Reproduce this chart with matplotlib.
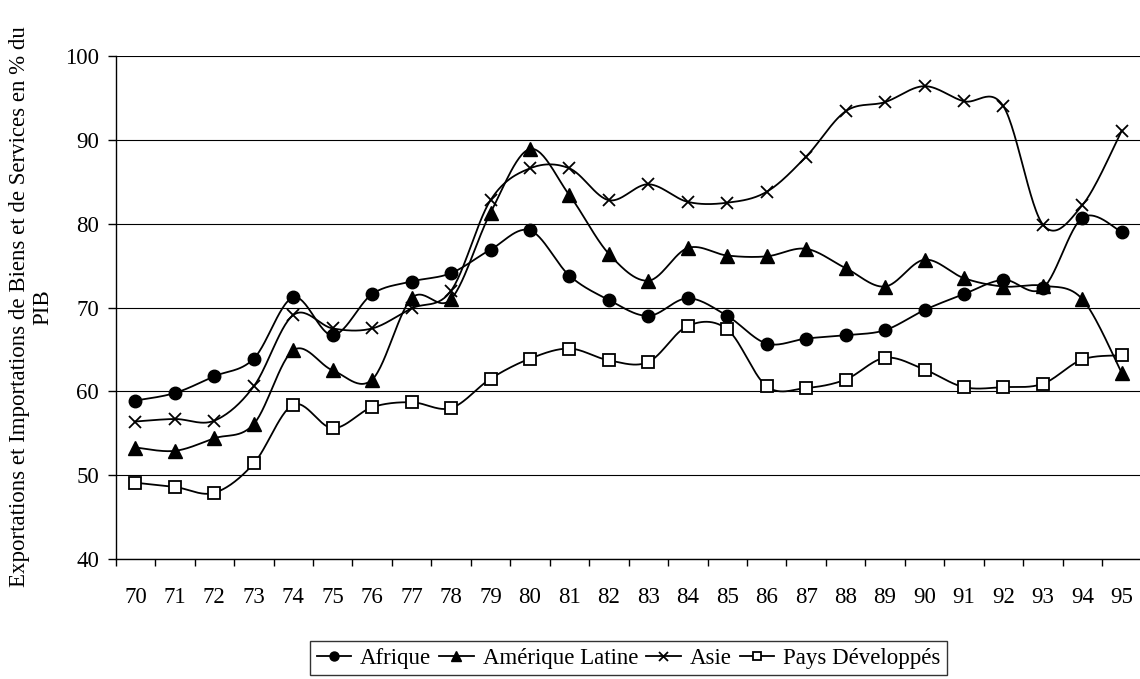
import numpy as np
import matplotlib
matplotlib.use("Agg")
import matplotlib.pyplot as plt
from matplotlib.lines import Line2D

years = ["70", "71", "72", "73", "74", "75", "76", "77", "78", "79", "80", "81", "82",
         "83", "84", "85", "86", "87", "88", "89", "90", "91", "92", "93", "94", "95"]

afrique = [58.9, 59.8, 61.8, 63.9, 71.2, 66.7, 71.6, 73.1, 74.1, 76.9, 79.2, 73.8, 70.9,
           69.0, 71.1, 69.0, 65.7, 66.3, 66.7, 67.3, 69.7, 71.6, 73.3, 72.3, 80.7, 79.0]
amerique_latine = [53.3, 52.9, 54.4, 56.1, 64.9, 62.5, 61.4, 71.1, 71.0, 81.3, 88.9, 83.4, 76.4,
                   73.2, 77.1, 76.2, 76.1, 77.0, 74.7, 72.5, 75.7, 73.5, 72.5, 72.6, 71.0, 62.2]
asie = [56.4, 56.7, 56.5, 60.6, 69.1, 67.5, 67.5, 69.9, 72.0, 82.8, 86.6, 86.6, 82.8,
        84.7, 82.6, 82.5, 83.8, 88.0, 93.4, 94.5, 96.4, 94.6, 94.0, 79.9, 82.2, 91.1]
pays_developpes = [49.1, 48.6, 47.9, 51.4, 58.4, 55.6, 58.1, 58.7, 58.0, 61.5, 63.9, 65.1, 63.7,
                   63.5, 67.8, 67.4, 60.6, 60.4, 61.4, 64.0, 62.6, 60.5, 60.5, 60.9, 63.8, 64.3]

series = [
    ("Afrique", afrique, dict(marker="o", ms=9, mfc="black", mec="black")),
    ("Amérique Latine", amerique_latine, dict(marker="^", ms=9.5, mfc="black", mec="black")),
    ("Asie", asie, dict(marker="x", ms=9, mfc="black", mec="black", mew=1.3)),
    ("Pays Développés", pays_developpes, dict(marker="s", ms=8.5, mfc="white", mec="black", mew=1.3)),
]

plt.rcParams["font.family"] = ["Liberation Serif", "DejaVu Serif"]
FS = 16.5

def smooth(y, n=30):
    """Catmull-Rom (Excel-like) smoothing between consecutive points."""
    y = np.asarray(y, dtype=float)
    x = np.arange(len(y), dtype=float)
    P = np.column_stack([x, y])
    out = [P[0]]
    for i in range(len(P) - 1):
        p0 = P[i - 1] if i > 0 else P[i]
        p1 = P[i]
        p2 = P[i + 1]
        p3 = P[i + 2] if i + 2 < len(P) else P[i + 1]
        c1 = p1 + (p2 - p0) / 6.0
        c2 = p2 - (p3 - p1) / 6.0
        t = np.linspace(0, 1, n)[1:, None]
        seg = ((1 - t) ** 3) * p1 + 3 * ((1 - t) ** 2) * t * c1 + 3 * (1 - t) * t ** 2 * c2 + t ** 3 * p2
        out.extend(seg)
    out = np.array(out)
    return out[:, 0], out[:, 1]

fig = plt.figure(figsize=(11.40, 6.79), dpi=100)
ax = fig.add_axes([115.7 / 1140, 1 - 559 / 679, (1141.5 - 115.7) / 1140, (559 - 56) / 679])

xs = np.arange(len(years))
for name, vals, st in series:
    sx, sy = smooth(vals)
    ax.plot(sx, sy, color="black", lw=1.3, zorder=3)
    ax.plot(xs, vals, ls="none", zorder=4, **st)

ax.set_xlim(-0.5, len(years) - 0.5)
ax.set_ylim(40, 100)
ax.set_yticks(np.arange(40, 101, 10))
ax.yaxis.grid(True, color="black", lw=0.8)
ax.set_axisbelow(True)

ax.set_xticks(xs)
ax.set_xticklabels(years)
ax.set_xticks(np.arange(-0.5, len(years) + 0.5, 1), minor=True)
ax.tick_params(axis="x", which="major", length=0, pad=20, labelsize=FS)
ax.tick_params(axis="x", which="minor", length=5, width=1, direction="out")
ax.tick_params(axis="y", length=6, width=1, direction="out", pad=6, labelsize=FS)

for s in ["top", "right"]:
    ax.spines[s].set_visible(False)
for s in ["left", "bottom"]:
    ax.spines[s].set_color("black")
    ax.spines[s].set_linewidth(1.0)

fig.text(31 / 1140, 1 - 307 / 679,
         "Exportations et Importations de Biens et de Services en % du\nPIB",
         rotation=90, ha="center", va="center", multialignment="center",
         fontsize=FS, linespacing=1.15)

handles = []
for name, vals, st in series:
    st2 = dict(st)
    st2["ms"] = st["ms"] * 0.72
    handles.append(Line2D([0], [0], color="black", lw=1.3, **st2))
leg = fig.legend(handles, [s[0] for s in series], loc="center",
                 bbox_to_anchor=(628.5 / 1140, 1 - 658 / 679), ncol=4,
                 frameon=True, fancybox=False, edgecolor="black", fontsize=FS,
                 handlelength=1.5, handletextpad=0.4, columnspacing=0.35,
                 borderpad=0.3, borderaxespad=0)
leg.get_frame().set_linewidth(1.0)

fig.savefig("out.png", dpi=100)
